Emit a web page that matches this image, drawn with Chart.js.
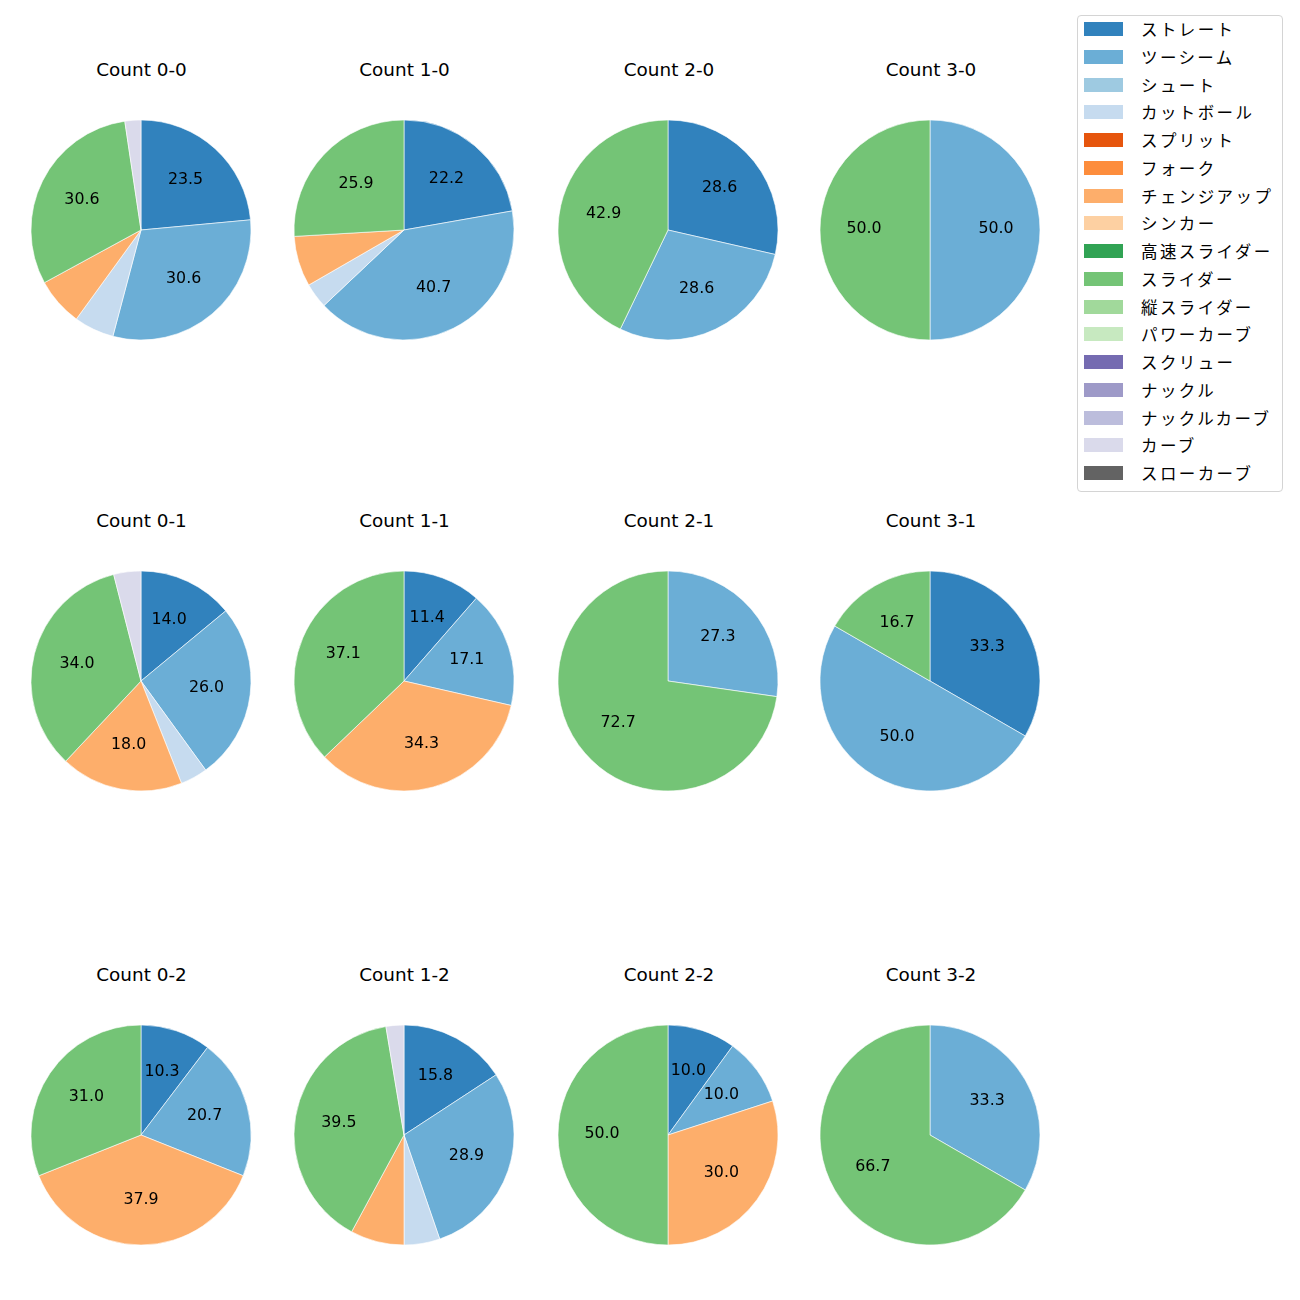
<!DOCTYPE html>
<html><head><meta charset="utf-8">
<script src="https://cdn.jsdelivr.net/npm/chart.js@4.4.0/dist/chart.umd.min.js"></script>
<style>
body{margin:0;background:#fff;width:1300px;height:1300px;position:relative;overflow:hidden;font-family:"Noto Sans CJK JP","Noto Sans",sans-serif;}
.title{position:absolute;width:240px;text-align:center;font-family:"DejaVu Sans",sans-serif;font-size:18.4px;line-height:22px;color:#000;white-space:nowrap;}
canvas.pie{position:absolute;}
#legend{position:absolute;left:1077px;top:15px;width:206px;height:477px;border:1px solid #d4d4d4;border-radius:4px;box-sizing:border-box;background:#fff;}
.item{position:absolute;left:0;width:204px;height:24px;}
.patch{position:absolute;left:6px;top:5px;width:39px;height:14px;}
.lbl{position:absolute;left:63px;top:0;line-height:24px;font-size:16.5px;letter-spacing:2.4px;color:#000;white-space:nowrap;}
</style>
</head><body>
<div id="legend"></div>
<script>
const pitchTypes = ['ストレート','ツーシーム','シュート','カットボール','スプリット','フォーク','チェンジアップ','シンカー','高速スライダー','スライダー','縦スライダー','パワーカーブ','スクリュー','ナックル','ナックルカーブ','カーブ','スローカーブ'];
const pitchColors = ['#3182bd','#6baed6','#9ecae1','#c6dbef','#e6550d','#fd8d3c','#fdae6b','#fdd0a2','#31a354','#74c476','#a1d99b','#c7e9c0','#756bb1','#9e9ac8','#bcbddc','#dadaeb','#636363'];
const countLabels = ['Count 0-0','Count 1-0','Count 2-0','Count 3-0','Count 0-1','Count 1-1','Count 2-1','Count 3-1','Count 0-2','Count 1-2','Count 2-2','Count 3-2'];
// pitch counts in pitchTypes order
const count00 = [20,26,0,5,0,0,6,0,0,26,0,0,0,0,0,2,0];
const count10 = [6,11,0,1,0,0,2,0,0,7,0,0,0,0,0,0,0];
const count20 = [2,2,0,0,0,0,0,0,0,3,0,0,0,0,0,0,0];
const count30 = [0,1,0,0,0,0,0,0,0,1,0,0,0,0,0,0,0];
const count01 = [7,13,0,2,0,0,9,0,0,17,0,0,0,0,0,2,0];
const count11 = [4,6,0,0,0,0,12,0,0,13,0,0,0,0,0,0,0];
const count21 = [0,3,0,0,0,0,0,0,0,8,0,0,0,0,0,0,0];
const count31 = [2,3,0,0,0,0,0,0,0,1,0,0,0,0,0,0,0];
const count02 = [3,6,0,0,0,0,11,0,0,9,0,0,0,0,0,0,0];
const count12 = [6,11,0,2,0,0,3,0,0,15,0,0,0,0,0,1,0];
const count22 = [1,1,0,0,0,0,3,0,0,5,0,0,0,0,0,0,0];
const count32 = [0,1,0,0,0,0,0,0,0,2,0,0,0,0,0,0,0];
const countValues = [count00,count10,count20,count30,count01,count11,count21,count31,count02,count12,count22,count32];

const colCenters = [140.5,403.5,668,930];
const rowCenters = [229.5,681,1135];
const titleCenterOffset = 159;
const R = 110;

// legend
const leg = document.getElementById('legend');
pitchTypes.forEach((name,i)=>{
  const it = document.createElement('div');
  it.className='item';
  it.style.top = (29.2 - 15 - 1 - 12 + i*27.74) + 'px';
  it.innerHTML = '<div class="patch" style="background:'+pitchColors[i]+'"></div><div class="lbl">'+name+'</div>';
  leg.appendChild(it);
});

const pctLabels = {
  id:'pctLabels',
  afterDatasetsDraw(chart){
    const ctx = chart.ctx;
    const meta = chart.getDatasetMeta(0);
    const data = chart.data.datasets[0].data;
    const total = data.reduce((a,b)=>a+b,0);
    meta.data.forEach((arc,i)=>{
      const v = data[i];
      if(!v) return;
      const pct = v/total*100;
      if(pct < 10) return;
      const p = arc.getProps(['x','y','startAngle','endAngle','outerRadius'], true);
      const mid = (p.startAngle+p.endAngle)/2;
      const r = p.outerRadius*0.6;
      ctx.save();
      ctx.fillStyle = '#000';
      ctx.font = '15.8px "DejaVu Sans", sans-serif';
      ctx.textAlign = 'center';
      ctx.textBaseline = 'middle';
      ctx.fillText(pct.toFixed(1), p.x + Math.cos(mid)*r, p.y + Math.sin(mid)*r - 1);
      ctx.restore();
    });
  }
};

countValues.forEach((vals,k)=>{
  const col = k % 4, row = Math.floor(k/4);
  const cx = colCenters[col], cy = rowCenters[row];
  const t = document.createElement('div');
  t.className = 'title';
  t.textContent = countLabels[k];
  t.style.left = (cx-120+1)+'px';
  t.style.top = (cy - titleCenterOffset - 12)+'px';
  document.body.appendChild(t);
  const c = document.createElement('canvas');
  c.className='pie';
  c.width = 240; c.height = 240;
  c.style.left = (cx-120)+'px';
  c.style.top = (cy-120)+'px';
  document.body.appendChild(c);
  new Chart(c, {
    type:'pie',
    data:{ labels: pitchTypes, datasets:[{ data: vals, backgroundColor: pitchColors, borderWidth: 0.6, borderColor:'#ffffff' }] },
    options:{
      responsive:false, animation:false, radius: R,
      layout:{padding:0},
      plugins:{ legend:{display:false}, tooltip:{enabled:false}, title:{display:false} }
    },
    plugins:[pctLabels]
  });
});
</script>
</body></html>
